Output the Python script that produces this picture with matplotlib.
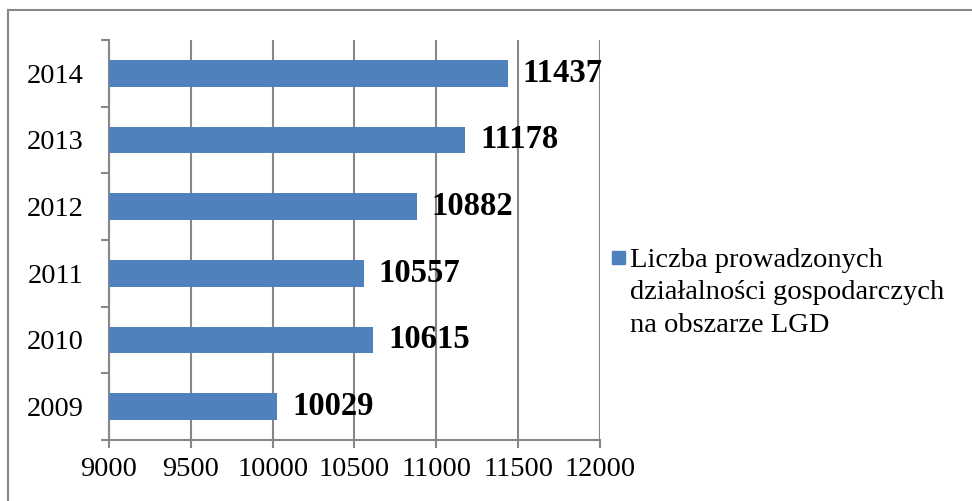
import matplotlib.pyplot as plt
from matplotlib.lines import Line2D
from matplotlib.patches import Rectangle

years = ['2009', '2010', '2011', '2012', '2013', '2014']
values = [10029, 10615, 10557, 10882, 11178, 11437]
series_name = 'Liczba prowadzonych\ndziałalności gospodarczych\nna obszarze LGD'
xticks = [9000, 9500, 10000, 10500, 11000, 11500, 12000]

plt.rcParams['font.family'] = ['Liberation Serif', 'DejaVu Serif']

fig = plt.figure(figsize=(9.72, 5.01), dpi=100)
ax = fig.add_axes([0.1121, 0.1218, 0.5052, 0.7984])

grid_col = '#878787'
bar_col = '#4F81BD'

pos = list(range(len(years)))
bars = ax.barh(pos, values, height=0.40, left=0, color=bar_col, zorder=3)
ax.bar_label(bars, labels=[str(v) for v in values], padding=10.5,
             fontsize=23.5, fontweight='bold', zorder=4)

ax.set_xlim(9000, 12000)
ax.set_ylim(-0.5, len(years) - 0.5)
ax.set_xticks(xticks)
ax.set_xticklabels([str(t) for t in xticks], fontsize=20.5)
ax.set_yticks(pos)
ax.set_yticklabels(years, fontsize=20.5)
ax.set_yticks([p - 0.5 for p in pos] + [len(years) - 0.5], minor=True)

ax.tick_params(axis='y', which='major', length=0, pad=18.5)
ax.tick_params(axis='y', which='minor', length=6, width=1.5, color=grid_col, direction='out')
ax.tick_params(axis='x', which='major', length=6, width=1.5, color=grid_col, direction='out', pad=6)

ax.grid(axis='x', color=grid_col, linewidth=1.5, zorder=0)
ax.set_axisbelow(True)
for s in ['top', 'right']:
    ax.spines[s].set_visible(False)
for s in ['left', 'bottom']:
    ax.spines[s].set_color(grid_col)
    ax.spines[s].set_linewidth(1.5)

# legend: square key next to first line of the label
W, H = 972, 501
fig.add_artist(Rectangle((612 / W, 1 - 264 / H), 13 / W, 13 / H,
                         transform=fig.transFigure, color=bar_col))
fig.text(630 / W, 1 - 332 / H, series_name, fontsize=20.5, va='baseline',
         ha='left', linespacing=1.4)

# outer chart border (top and left edges visible)
fig.add_artist(Line2D([8 / W, 1], [1 - 10 / H] * 2, color=grid_col, lw=1.5))
fig.add_artist(Line2D([8 / W] * 2, [0, 1 - 10 / H], color=grid_col, lw=1.5))

fig.savefig('out.png', dpi=100)
